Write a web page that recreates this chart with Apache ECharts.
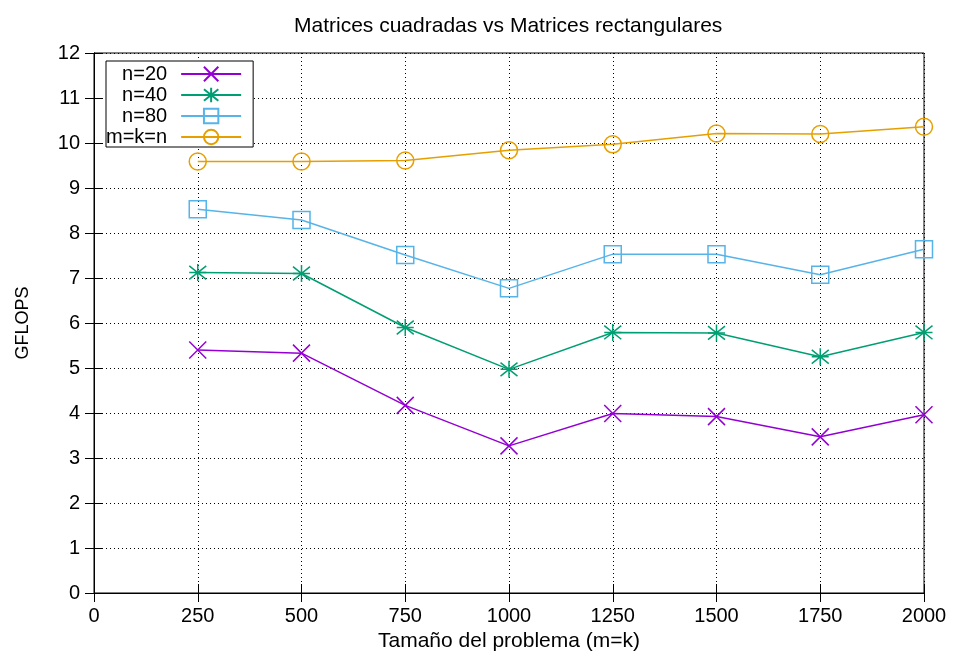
<!DOCTYPE html>
<html>
<head>
<meta charset="utf-8">
<script src="https://cdn.jsdelivr.net/npm/echarts@6/dist/echarts.min.js"></script>
<style>
  html, body { margin: 0; padding: 0; background: #fff; }
  #chart { width: 954px; height: 660px; }
</style>
</head>
<body>
<div id="chart"></div>
<script>
// Problem sizes (m = k)
const sizes = [250, 500, 750, 1000, 1250, 1500, 1750, 2000];

// GFLOPS per configuration
const n20  = [5.40, 5.33, 4.17, 3.27, 3.99, 3.92, 3.47, 3.96];
const n40  = [7.12, 7.10, 5.90, 4.97, 5.79, 5.78, 5.25, 5.79];
const n80  = [8.53, 8.29, 7.51, 6.77, 7.53, 7.53, 7.07, 7.64];
const mkn  = [9.59, 9.59, 9.61, 9.84, 9.97, 10.21, 10.20, 10.36];

const seriesNames = ['n=20', 'n=40', 'n=80', 'm=k=n'];

const FONT = '"Liberation Sans", Arial, sans-serif';

function pairs(ys) { return sizes.map((x, i) => [x, ys[i]]); }

const crossPath = 'path://M0,0L16,16M16,0L0,16';
const starPath = 'path://M0,0L16,16M16,0L0,16M8,-2L8,18M0,8L16,8';

function lineSeries(name, ys, color, symbol, fill) {
  return {
    name: name,
    type: 'line',
    data: pairs(ys),
    symbol: symbol,
    symbolSize: 17,
    showAllSymbol: true,
    lineStyle: { color: color, width: 1.5 },
    itemStyle: { color: fill, borderColor: color, borderWidth: 1.5 },
    emphasis: { disabled: true },
    animation: false,
    z: 3
  };
}

const chart = echarts.init(document.getElementById('chart'), null, { renderer: 'canvas' });

const dotted = { show: true, lineStyle: { color: '#000', type: [1, 3], width: 1 } };

const tickStyle = { show: true, inside: true, length: 9, lineStyle: { color: '#000' } };

chart.setOption({
  backgroundColor: '#fff',
  animation: false,
  title: {
    text: 'Matrices cuadradas vs Matrices rectangulares',
    left: 289,
    top: 11,
    textStyle: { fontFamily: FONT, fontSize: 21, fontWeight: 'normal', color: '#000' }
  },
  legend: {
    data: seriesNames,
    orient: 'vertical',
    left: 106,
    top: 61,
    align: 'right',
    padding: [3, 11, 0, 0],
    itemWidth: 60,
    itemHeight: 18,
    itemGap: 1,
    backgroundColor: '#fff',
    borderColor: '#000',
    borderWidth: 1,
    borderRadius: 0,
    selectedMode: false,
    textStyle: {
      fontFamily: FONT, fontSize: 20, color: '#000',
      width: 65, align: 'right', padding: [0, 9, 0, 0]
    }
  },
  grid: {
    left: 94, right: 30, top: 53, bottom: 67,
    show: true, borderColor: '#000', borderWidth: 1, backgroundColor: 'transparent'
  },
  xAxis: [{
    type: 'value',
    min: 0, max: 2000, interval: 250,
    name: 'Tamaño del problema (m=k)',
    nameLocation: 'middle',
    nameGap: 28,
    nameTextStyle: { fontFamily: FONT, fontSize: 21, color: '#000' },
    axisLine: { show: true, lineStyle: { color: '#000' } },
    axisTick: tickStyle,
    axisLabel: { fontFamily: FONT, fontSize: 20, color: '#000', margin: 13, formatter: v => String(v) },
    splitLine: dotted
  }, {
    type: 'value', position: 'top',
    min: 0, max: 2000, interval: 250,
    axisLine: { show: true, lineStyle: { color: '#000' } },
    axisTick: tickStyle,
    axisLabel: { show: false },
    splitLine: { show: false }
  }],
  yAxis: [{
    type: 'value',
    min: 0, max: 12, interval: 1,
    name: 'GFLOPS',
    nameLocation: 'middle',
    nameGap: 62,
    nameRotate: 90,
    nameTextStyle: { fontFamily: FONT, fontSize: 18, color: '#000' },
    axisLine: { show: true, lineStyle: { color: '#000' } },
    axisTick: tickStyle,
    axisLabel: { fontFamily: FONT, fontSize: 20, color: '#000', margin: 14 },
    splitLine: dotted
  }, {
    type: 'value', position: 'right',
    min: 0, max: 12, interval: 1,
    axisLine: { show: true, lineStyle: { color: '#000' } },
    axisTick: tickStyle,
    axisLabel: { show: false },
    splitLine: { show: false }
  }],
  series: [
    lineSeries(seriesNames[0], n20, '#9400d3', crossPath, '#9400d3'),
    lineSeries(seriesNames[1], n40, '#009e73', starPath, '#009e73'),
    lineSeries(seriesNames[2], n80, '#56b4e9', 'rect', 'rgba(0,0,0,0)'),
    lineSeries(seriesNames[3], mkn, '#e69f00', 'circle', 'rgba(0,0,0,0)')
  ]
});
</script>
</body>
</html>
